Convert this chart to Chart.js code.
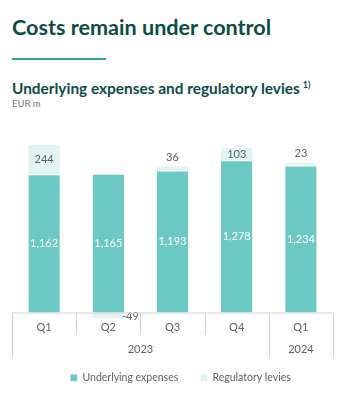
<!DOCTYPE html>
<html>
<head>
<meta charset="utf-8">
<script src="https://cdn.jsdelivr.net/npm/chart.js@4"></script>
<style>
  html, body { margin: 0; padding: 0; background: #fff; }
  body { width: 349px; height: 396px; position: relative; overflow: hidden; font-family: Lato, sans-serif; }
  #title { position: absolute; left: 12px; top: 14px; font-size: 21.6px; font-weight: 700; color: #0c4c46; }
  #rule { position: absolute; left: 12px; top: 58px; width: 94px; height: 2px; background: #28a89e; }
  #sub { position: absolute; left: 12px; top: 79px; font-size: 15.4px; font-weight: 700; color: #0c4c46; }
  #sub sup { font-size: 9px; margin-left: 3px; }
  #unit { position: absolute; left: 12px; top: 98px; font-size: 9.5px; color: #777; }
  #wrap { position: absolute; left: 0; top: 110px; width: 349px; height: 283px; }
</style>
</head>
<body>
<div id="title">Costs remain under control</div>
<div id="rule"></div>
<div id="sub">Underlying expenses and regulatory levies<sup>1)</sup></div>
<div id="unit">EUR m</div>
<div id="wrap"><canvas id="chart"></canvas></div>
<script>
const quarters = ['Q1', 'Q2', 'Q3', 'Q4', 'Q1'];
const years = [{ label: '2023', from: 0, to: 3 }, { label: '2024', from: 4, to: 4 }];
const underlying = [1162, 1165, 1193, 1278, 1234];
const levies = [244, -49, 36, 103, 23];

const TEAL = '#6cc8c2';
const LIGHT = '#e2f4f2';
const GRID = '#ccd3d6';
const TEXT = '#5b6166';

const fmt = v => v.toLocaleString('en-US');

// labels on bars + the table-like x axis
const tablePlugin = {
    id: 'table',
    afterDatasetsDraw(chart) {
        const ctx = chart.ctx;
        const x = chart.scales.x;
        const y = chart.scales.y;
        const zero = y.getPixelForValue(0);
        const left = chart.chartArea.left, right = chart.chartArea.right;
        const step = (right - left) / quarters.length;
        ctx.save();

        // value labels
        ctx.font = '11px Lato, sans-serif';
        ctx.textAlign = 'center';
        ctx.textBaseline = 'middle';
        chart.getDatasetMeta(0).data.forEach((bar, i) => {
            ctx.fillStyle = '#ffffff';
            ctx.fillText(fmt(underlying[i]), bar.x, (bar.y + bar.base) / 2);
        });
        chart.getDatasetMeta(1).data.forEach((bar, i) => {
            const v = levies[i];
            const h = Math.abs(bar.base - bar.y);
            ctx.fillStyle = TEXT;
            if (v < 0) {
                ctx.textAlign = 'left';
                ctx.fillText(fmt(v), bar.x + bar.width / 2 - 2, (bar.y + bar.base) / 2 + 1);
                ctx.textAlign = 'center';
            } else if (h > 10) {
                ctx.fillText(fmt(v), bar.x, (bar.y + bar.base) / 2);
            } else {
                ctx.fillText(fmt(v), bar.x, bar.y - 9);
            }
        });

        // axis table
        ctx.strokeStyle = GRID;
        ctx.lineWidth = 1;
        ctx.beginPath();
        ctx.moveTo(left, zero + 0.5);
        ctx.lineTo(right, zero + 0.5);
        for (let i = 0; i <= quarters.length; i++) {
            const gx = Math.round(left + i * step) + 0.5;
            const isEdge = years.some(g => g.from === i) || i === quarters.length;
            ctx.moveTo(gx, zero);
            ctx.lineTo(gx, zero + (isEdge ? 45 : 22));
        }
        ctx.stroke();

        ctx.fillStyle = TEXT;
        ctx.font = '11px Lato, sans-serif';
        quarters.forEach((q, i) => {
            ctx.fillText(q, x.getPixelForValue(i), zero + 15);
        });
        years.forEach(g => {
            const cx = (left + g.from * step + left + (g.to + 1) * step) / 2;
            ctx.fillText(g.label, cx, zero + 37);
        });
        ctx.restore();
    }
};

new Chart(document.getElementById('chart'), {
    type: 'bar',
    data: {
        labels: quarters.map((q, i) => i),
        datasets: [
            { label: 'Underlying expenses', data: underlying, backgroundColor: TEAL, borderColor: '#ffffff', borderWidth: { top: 1 } },
            { label: 'Regulatory levies', data: levies, backgroundColor: LIGHT }
        ]
    },
    options: {
        responsive: true,
        maintainAspectRatio: false,
        animation: false,
        layout: { padding: { top: 12, left: 12, right: 0, bottom: 0 } },
        datasets: { bar: { categoryPercentage: 1, barPercentage: 0.49, clip: false } },
        scales: {
            x: {
                stacked: true,
                grid: { display: false },
                border: { display: false },
                ticks: { display: false },
                afterFit(s) { s.height = 38; }
            },
            y: {
                stacked: true,
                position: 'right',
                min: 0,
                max: 1600,
                grid: { display: false },
                border: { display: false },
                ticks: { display: false },
                afterFit(s) { s.width = 16; }
            }
        },
        plugins: {
            legend: {
                position: 'bottom',
                labels: {
                    boxWidth: 7,
                    boxHeight: 7,
                    padding: 22,
                    color: TEXT,
                    font: { size: 10.5, family: 'Lato, sans-serif' }
                }
            },
            tooltip: { enabled: false }
        }
    },
    plugins: [tablePlugin]
});
</script>
</body>
</html>
